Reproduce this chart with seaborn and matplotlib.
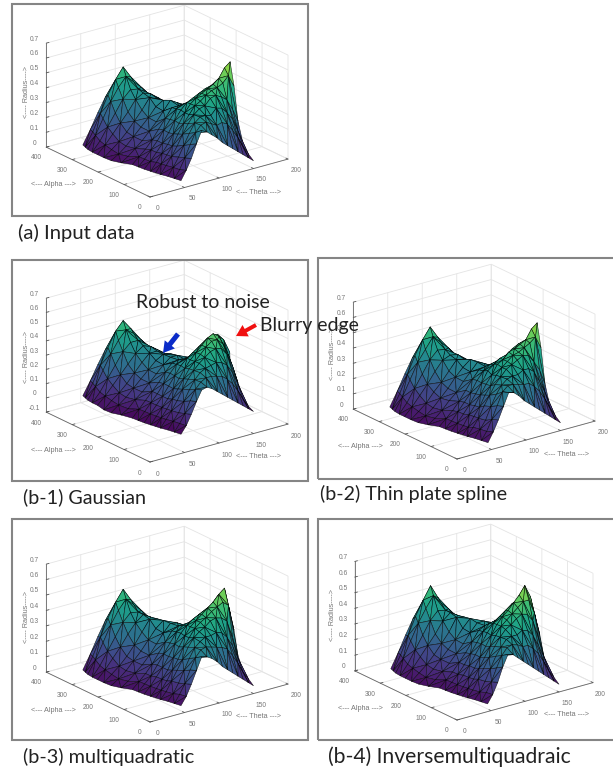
import numpy as np
import matplotlib
matplotlib.use("Agg")
import matplotlib.pyplot as plt
import matplotlib.tri as mtri
import seaborn as sns
from matplotlib.patches import Rectangle, FancyArrow
from matplotlib.transforms import Affine2D
from mpl_toolkits.mplot3d import proj3d

# mesh columns (alpha) and the theta range of each column
alpha_vals = [40, 60, 80, 100, 115, 130, 150, 170, 190, 215, 240, 265, 290, 310, 330, 345, 360]
theta_low = [60, 58, 56, 53, 51.5, 50, 48, 47, 46, 39, 34, 33, 33, 33, 34, 36, 38]
theta_high = [165, 165, 165, 165, 165, 165, 172, 176, 179.5, 182, 185, 187, 187.5, 188, 189, 189.5, 190]

# radius values, one row per alpha column
radius_input = [
    [0, .06, .13, .22, .30, .28, .25, .22, .18, .15, .12, .09, .06, .03, 0],
    [0, .05, .12, .20, .27, .31, .32, .30, .28, .29, .27, .22, .16, .09, .03],
    [0, .05, .11, .18, .25, .31, .34, .34, .33, .37, .36, .32, .27, .18, .08],
    [0, .05, .10, .16, .23, .29, .34, .37, .38, .42, .43, .41, .38, .31, .22],
    [0, .05, .10, .15, .22, .28, .33, .38, .40, .43, .45, .46, .48, .52, .44],
    [0, .05, .10, .15, .21, .27, .33, .38, .41, .43, .45, .47, .50, .56, .59],
    [0, .04, .09, .14, .20, .27, .33, .37, .39, .41, .43, .44, .46, .47, .42],
    [0, .04, .09, .14, .20, .26, .32, .34, .34, .35, .36, .37, .38, .36, .28],
    [0, .04, .08, .13, .19, .25, .31, .31, .29, .28, .28, .29, .30, .27, .20],
    [0, .03, .07, .11, .16, .21, .27, .33, .30, .26, .22, .20, .17, .15, .10],
    [0, .03, .07, .12, .17, .22, .28, .31, .29, .25, .20, .17, .14, .11, .08],
    [0, .04, .08, .13, .19, .25, .32, .30, .26, .22, .18, .14, .11, .08, .06],
    [0, .05, .11, .17, .23, .30, .33, .31, .27, .22, .17, .13, .10, .07, .05],
    [0, .06, .14, .22, .30, .35, .34, .30, .25, .19, .15, .11, .08, .06, .05],
    [0, .08, .18, .28, .36, .42, .37, .32, .26, .20, .14, .10, .07, .05, .04],
    [0, .09, .20, .31, .40, .47, .39, .30, .23, .16, .12, .08, .06, .05, .04],
    [0, .09, .19, .28, .34, .37, .29, .21, .16, .12, .09, .06, .05, .04, .03],
]
radius_gaussian = [
    [-.02, .03, .10, .18, .25, .26, .24, .21, .18, .15, .12, .09, .06, .03, 0],
    [-.02, .03, .09, .17, .24, .28, .30, .30, .29, .28, .25, .21, .15, .08, .02],
    [-.02, .03, .08, .15, .22, .28, .32, .34, .35, .36, .35, .32, .26, .17, .07],
    [-.02, .03, .08, .14, .21, .27, .32, .36, .39, .42, .43, .42, .37, .28, .15],
    [-.02, .03, .08, .14, .20, .26, .32, .36, .40, .44, .47, .47, .43, .34, .22],
    [-.02, .03, .08, .13, .19, .25, .31, .36, .40, .44, .48, .50, .47, .39, .27],
    [-.02, .03, .08, .13, .19, .25, .31, .35, .38, .41, .44, .46, .46, .41, .31],
    [-.02, .03, .08, .13, .19, .25, .30, .32, .33, .35, .37, .38, .37, .33, .26],
    [-.02, .03, .08, .13, .18, .24, .29, .30, .29, .29, .29, .30, .29, .26, .20],
    [-.01, .02, .07, .11, .16, .21, .26, .30, .30, .27, .24, .21, .18, .15, .10],
    [-.01, .03, .07, .12, .17, .22, .27, .30, .29, .25, .21, .17, .14, .11, .08],
    [-.01, .04, .08, .13, .19, .25, .30, .30, .27, .23, .18, .14, .11, .08, .06],
    [0, .05, .11, .17, .23, .29, .33, .31, .27, .22, .17, .13, .10, .07, .05],
    [0, .06, .14, .22, .30, .35, .35, .30, .25, .20, .15, .11, .08, .06, .05],
    [0, .08, .18, .28, .36, .42, .38, .32, .26, .20, .14, .10, .07, .05, .04],
    [0, .09, .20, .31, .41, .47, .40, .30, .23, .16, .12, .08, .06, .05, .04],
    [0, .09, .19, .28, .34, .38, .29, .21, .16, .12, .09, .06, .05, .04, .03],
]
radius_tps = [
    [0, .06, .13, .21, .29, .28, .25, .21, .18, .15, .12, .09, .06, .03, 0],
    [0, .05, .12, .20, .28, .31, .31, .30, .29, .29, .26, .22, .16, .09, .03],
    [0, .05, .10, .18, .25, .30, .33, .34, .34, .36, .36, .33, .26, .18, .07],
    [0, .05, .10, .17, .23, .29, .33, .37, .39, .41, .43, .42, .37, .31, .21],
    [0, .04, .10, .15, .22, .27, .33, .37, .40, .43, .44, .46, .48, .51, .43],
    [0, .04, .10, .15, .21, .27, .32, .38, .40, .44, .45, .47, .49, .55, .58],
    [0, .04, .09, .14, .20, .26, .33, .36, .39, .40, .43, .45, .46, .46, .41],
    [0, .04, .09, .14, .19, .26, .31, .34, .35, .35, .36, .37, .37, .36, .27],
    [0, .04, .08, .13, .19, .25, .30, .31, .30, .28, .28, .29, .30, .26, .20],
    [0, .03, .07, .12, .16, .22, .27, .32, .30, .25, .22, .20, .17, .15, .10],
    [0, .03, .07, .12, .17, .23, .28, .32, .28, .25, .20, .17, .14, .11, .08],
    [0, .04, .08, .14, .19, .25, .31, .30, .26, .22, .18, .14, .11, .08, .06],
    [0, .05, .11, .17, .24, .30, .32, .31, .27, .22, .17, .13, .10, .07, .05],
    [0, .06, .14, .22, .30, .35, .34, .30, .25, .19, .15, .11, .08, .06, .05],
    [0, .08, .18, .28, .35, .42, .37, .32, .26, .20, .14, .10, .07, .05, .04],
    [0, .09, .20, .31, .40, .47, .39, .30, .23, .16, .12, .08, .06, .05, .04],
    [0, .09, .19, .28, .34, .37, .29, .21, .16, .12, .09, .06, .05, .04, .03],
]
radius_mq = [
    [0, .05, .12, .20, .28, .27, .25, .22, .18, .15, .12, .09, .06, .03, 0],
    [0, .05, .11, .19, .26, .30, .31, .30, .29, .28, .26, .21, .15, .08, .03],
    [0, .04, .10, .17, .24, .30, .33, .35, .35, .36, .35, .31, .25, .16, .06],
    [0, .04, .10, .16, .22, .29, .34, .37, .39, .42, .43, .42, .39, .28, .15],
    [0, .04, .09, .15, .21, .28, .33, .38, .41, .43, .46, .48, .50, .47, .30],
    [0, .04, .09, .14, .21, .27, .33, .38, .41, .44, .47, .50, .54, .57, .40],
    [0, .04, .09, .14, .20, .27, .33, .37, .40, .42, .44, .46, .48, .47, .36],
    [0, .04, .08, .14, .20, .26, .32, .35, .36, .36, .37, .38, .38, .35, .26],
    [0, .04, .08, .13, .19, .25, .31, .33, .32, .30, .30, .30, .30, .27, .20],
    [0, .03, .07, .11, .16, .22, .28, .33, .32, .27, .23, .20, .17, .15, .10],
    [0, .03, .07, .12, .17, .23, .29, .33, .30, .25, .20, .17, .14, .11, .08],
    [0, .04, .08, .13, .19, .26, .33, .32, .27, .22, .18, .14, .11, .08, .06],
    [0, .05, .11, .17, .24, .30, .34, .31, .27, .22, .17, .13, .10, .07, .05],
    [0, .06, .14, .22, .30, .35, .34, .30, .25, .19, .15, .11, .08, .06, .05],
    [0, .08, .18, .28, .36, .42, .37, .32, .26, .20, .14, .10, .07, .05, .04],
    [0, .09, .20, .31, .40, .47, .39, .30, .23, .16, .12, .08, .06, .05, .04],
    [0, .09, .19, .28, .34, .37, .29, .21, .16, .12, .09, .06, .05, .04, .03],
]
radius_imq = [
    [0, .05, .12, .21, .28, .27, .24, .21, .18, .15, .12, .09, .06, .03, 0],
    [0, .05, .11, .19, .26, .30, .31, .30, .28, .28, .25, .21, .15, .08, .03],
    [0, .04, .10, .17, .24, .29, .33, .34, .34, .36, .35, .31, .24, .16, .06],
    [0, .04, .10, .16, .22, .28, .33, .37, .39, .42, .44, .43, .38, .27, .14],
    [0, .04, .09, .15, .21, .27, .33, .38, .41, .44, .47, .50, .50, .41, .26],
    [0, .04, .09, .14, .20, .26, .32, .38, .42, .45, .49, .53, .58, .50, .34],
    [0, .04, .09, .14, .20, .26, .32, .37, .40, .43, .46, .48, .49, .44, .34],
    [0, .04, .08, .13, .19, .25, .31, .35, .36, .37, .38, .39, .38, .34, .26],
    [0, .04, .08, .13, .18, .24, .30, .32, .32, .31, .30, .30, .29, .26, .20],
    [0, .03, .07, .11, .16, .21, .27, .32, .32, .27, .23, .20, .17, .15, .10],
    [0, .03, .07, .12, .17, .22, .28, .33, .30, .25, .20, .17, .14, .11, .08],
    [0, .04, .08, .13, .19, .25, .33, .32, .27, .22, .18, .14, .11, .08, .06],
    [0, .05, .11, .17, .23, .30, .34, .31, .27, .22, .17, .13, .10, .07, .05],
    [0, .06, .14, .22, .30, .35, .34, .30, .25, .19, .15, .11, .08, .06, .05],
    [0, .08, .18, .28, .36, .43, .37, .32, .26, .20, .14, .10, .07, .05, .04],
    [0, .09, .20, .31, .40, .48, .39, .30, .23, .16, .12, .08, .06, .05, .04],
    [0, .09, .19, .28, .34, .37, .29, .21, .16, .12, .09, .06, .05, .04, .03],
]

theta_ticks = [0, 50, 100, 150, 200]
alpha_ticks = [0, 100, 200, 300, 400]
radius_ticks = [0, .1, .2, .3, .4, .5, .6, .7]
radius_ticks_gauss = [-.1, 0, .1, .2, .3, .4, .5, .6, .7]

sns.set_theme(style="white")
plt.rcParams['font.family'] = ['Liberation Sans', 'DejaVu Sans']
cmap = sns.color_palette("viridis", as_cmap=True)

W, H = 613, 770
ELEV = 21.3
fig = plt.figure(figsize=(W / 100, H / 100), dpi=100, facecolor="white")
px = Affine2D().scale(1, -1).translate(0, H)


def fx(x):
    return x / W


def fy(y):
    return 1 - y / H


def to_px(ax, x, y, z):
    xs, ys, _ = proj3d.proj_transform(x, y, z, ax.get_proj())
    return ax.transData.transform((xs, ys))


def surface(ax, table):
    n_rows = len(table[0])
    th, al, ra, tris = [], [], [], []
    for j, a in enumerate(alpha_vals):
        th.extend(np.linspace(theta_low[j], theta_high[j], n_rows))
        al.extend([a] * n_rows)
        ra.extend(table[j])
    for j in range(len(alpha_vals) - 1):
        for i in range(n_rows - 1):
            p = j * n_rows + i
            q = p + n_rows
            if (i + j) % 2 == 0:
                tris += [[p, q, p + 1], [q, q + 1, p + 1]]
            else:
                tris += [[p, q, q + 1], [p, q + 1, p + 1]]
    tri = mtri.Triangulation(th, al, tris)
    ax.plot_trisurf(tri, ra, cmap=cmap, vmin=-.02, vmax=.68,
                    edgecolor=(0, 0, 0, .8), linewidth=.4, antialiased=True, shade=False)


def panel(table, origin, theta_end, alpha_end, z_top, zlim, zticks):
    ax = fig.add_axes([0, 0, 1, 1], projection="3d")
    ax.patch.set_alpha(0)
    ax.set_proj_type("ortho")
    ax.view_init(elev=ELEV, azim=-127.1)
    ax.set_xlim(0, 200)
    ax.set_ylim(0, 400)
    ax.set_zlim(*zlim)
    z_px = alpha_end[1] - z_top[1]
    aspect = (173, 172, z_px / np.cos(np.radians(ELEV)))
    ax.set_box_aspect(aspect, zoom=1)
    surface(ax, table)

    ax.set_xticks(theta_ticks)
    ax.set_yticks(alpha_ticks)
    ax.set_zticks(zticks)
    ax.set_zticklabels([f"{v:g}" for v in zticks])
    ax.tick_params(labelsize=4.8, color="#555555", labelcolor="#777777", pad=9)
    ax.tick_params(axis="z", pad=3)
    for axis in (ax.xaxis, ax.yaxis, ax.zaxis):
        axis.set_pane_color((1, 1, 1, 0))
        axis.pane.set_edgecolor("#dddddd")
        axis.line.set_color("#666666")
        axis.line.set_linewidth(.6)
        axis._axinfo["grid"].update(color="#e4e4e4", linewidth=.6)
        axis._axinfo["tick"].update(inward_factor=0.0, outward_factor=0.25, linewidth={True: .6, False: .6})
    for lab in ax.xaxis.get_ticklabels() + ax.yaxis.get_ticklabels():
        lab.set_va("center")
    for lab in ax.zaxis.get_ticklabels():
        lab.set_va("bottom")

    # scale and shift so the axes land where they are in the picture
    ax.apply_aspect()
    a = to_px(ax, 0, 0, zlim[0])
    b = to_px(ax, 200, 0, zlim[0])
    zoom = (theta_end[0] - origin[0]) / (b[0] - a[0])
    ax.set_box_aspect(aspect, zoom=zoom)
    a = to_px(ax, 0, 0, zlim[0])
    dx = origin[0] - a[0]
    dy = (H - origin[1]) - a[1]
    ax.set_position([dx / W, dy / H, 1, 1])

    left, top = origin[0] - 150, origin[1] - 197
    fig.text(fx(left + 53), fy(top + 185), "<--- Alpha --->", fontsize=5.2, color="#777777",
             ha="center", va="center")
    fig.text(fx(left + 259), fy(top + 192), "<--- Theta --->", fontsize=5.2, color="#777777",
             ha="center", va="center")
    fig.text(fx(left + 26), fy(top + 92), "<---- Radius---->", fontsize=5.2, color="#777777",
             ha="center", va="center", rotation=90)
    return ax


panel(radius_input, (150, 197), (288, 159), (46, 147), (46, 43), (0, .7), radius_ticks)
panel(radius_gaussian, (150, 462), (288, 423), (46, 412), (46, 298), (-.1, .7), radius_ticks_gauss)
panel(radius_tps, (457, 459), (595, 422), (352, 409), (352, 302), (0, .7), radius_ticks)
panel(radius_mq, (150, 722), (288, 683), (46, 670), (46, 562), (0, .7), radius_ticks)
panel(radius_imq, (457, 720), (593, 682), (352, 669), (352, 558), (0, .7), radius_ticks)

# frames round the panels
for x0, y0, x1, y1 in [(12, 4, 308, 216), (12, 260, 308, 481), (318, 258, 615, 479),
                       (12, 519, 308, 740), (318, 519, 615, 740)]:
    fig.add_artist(Rectangle((fx(x0), fy(y1)), (x1 - x0) / W, (y1 - y0) / H, fill=False,
                             edgecolor="#858585", linewidth=1.5, transform=fig.transFigure, zorder=4))

captions = ["(a) Input data", "(b-1) Gaussian", "(b-2) Thin plate spline", "(b-3) multiquadratic",
            "(b-4) Inversemultiquadraic"]
cap_x = [18, 23, 320, 23, 328]
cap_y = [233, 497, 494, 757, 757]
cap_size = [14.6, 14.2, 14.2, 14.3, 15.2]
for s, x, y, fs in zip(captions, cap_x, cap_y, cap_size):
    fig.text(fx(x), fy(y), s, fontsize=fs, family="Lato", color="#222222", va="center", zorder=6)

fig.text(fx(136), fy(302), "Robust to noise", fontsize=14, family="Lato", color="#222222", va="center", zorder=6)
fig.text(fx(260), fy(326), "Blurry edge", fontsize=14, family="Lato", color="#222222", va="center", zorder=6)

fig.add_artist(FancyArrow(178, 334, -15, 19, width=5, head_width=13, head_length=11, length_includes_head=True,
                          color="#0a2bc8", linewidth=0, transform=px, zorder=6))
fig.add_artist(FancyArrow(256, 325, -20, 11, width=4, head_width=13, head_length=11, length_includes_head=True,
                          color="#f01010", linewidth=0, transform=px, zorder=6))

fig.savefig("out.png", dpi=100)
